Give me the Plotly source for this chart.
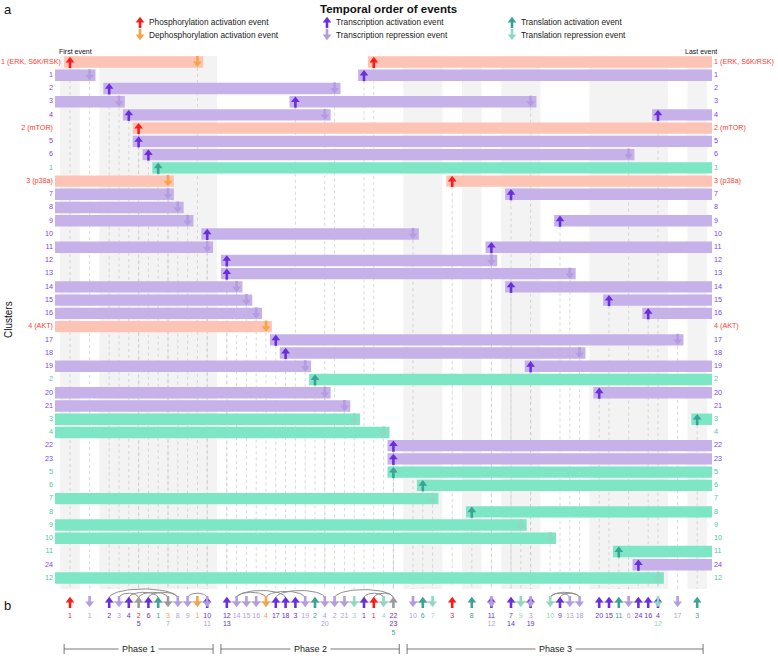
import numpy as np
import plotly.graph_objects as go

# ---- data -------------------------------------------------------------
# cluster rows of panel a, top to bottom (P = phosphorylation, T = transcription, L = translation)
row_labels = ["1 (ERK, S6K/RSK)", "1", "2", "3", "4", "2 (mTOR)", "5", "6", "1", "3 (p38a)",
              "7", "8", "9", "10", "11", "12", "13", "14", "15", "16",
              "4 (AKT)", "17", "18", "19", "2", "20", "21", "3", "4", "22",
              "23", "5", "6", "7", "8", "9", "10", "11", "24", "12"]
row_kinds = ["P", "T", "T", "T", "T", "P", "T", "T", "L", "P",
             "T", "T", "T", "T", "T", "T", "T", "T", "T", "T",
             "P", "T", "T", "T", "L", "T", "T", "L", "L", "T",
             "T", "L", "L", "L", "L", "L", "L", "L", "T", "L"]

# event slots (position in the temporal order) of activation / repression events per row
row_up = [[0, 31], [30], [4], [23], [6, 60], [7], [7], [8], [9], [39],
          [45], [], [50], [14], [43], [16], [16], [45], [55], [59],
          [], [21], [22], [47], [25], [54], [], [64], [], [33],
          [33], [33], [36], [], [41], [], [], [56], [58], []]
row_down = [[13], [2], [27], [5, 47], [26], [], [], [57], [], [10],
            [10], [11], [12], [35], [14], [43], [51], [17], [18], [19],
            [20], [62], [52], [24], [], [26], [28], [29], [32], [],
            [], [], [], [37], [], [46], [49], [], [], [60]]

# links drawn as arcs in panel b (pairs of slots)
arc_pairs = [(4, 11), (5, 7), (6, 9), (7, 10), (8, 11), (12, 14),
             (17, 20), (17, 22), (20, 24), (21, 26), (27, 33), (30, 32), (31, 33),
             (49, 52), (50, 52), (49, 51)]

# phases (first and last slot)
phase_names = ["Phase 1", "Phase 2", "Phase 3"]
phase_slots = [(0, 14), (16, 33), (35, 64)]

# ---- styling ------------------------------------------------------------
W, H = 778, 658
X0, DX = 70.0, 9.8      # pixel of slot 0, pixels per slot
Y0, DY = 62.0, 13.23    # pixel of first row, pixels per row
FONT = "Liberation Sans, Arial, sans-serif"

bar_color = {"P": "#fdc3b4", "T": "#c6b2e9", "L": "#7ce6c5"}
label_color = {"P": "#ff3b30", "T": "#7b45e8", "L": "#4ec6aa"}
up_color = {"P": "#ff1a1a", "T": "#6a2ee0", "L": "#3aa393"}
down_color = {"P": "#f7a445", "T": "#b39de0", "L": "#8fd8c4"}
MIXED = "#9b9b9b"


def kx(px):
    return (px - X0) / DX


def ry(py):
    return (py - Y0) / DY


LEFT, RIGHT, PAD = kx(55), kx(712), 0.6

fig = go.Figure()
shapes = []


def add_arrows(xs, ys, colors, up, stem_w=2.6):
    if not xs:
        return
    s = 1 if up else -1
    fig.add_trace(go.Scatter(
        x=xs, y=[y + s * 2.5 / DY for y in ys], mode="markers", hoverinfo="skip",
        marker=dict(symbol="line-ns", size=5, color=colors, line=dict(color=colors, width=stem_w))))
    fig.add_trace(go.Scatter(
        x=xs, y=[y - s * 1.5 / DY for y in ys], mode="markers", hoverinfo="skip",
        marker=dict(symbol="triangle-up" if up else "triangle-down", size=7.5,
                    color=colors, line=dict(width=0))))


# ---- slot groups and background bands ----------------------------------------
slots = {}
for r in range(len(row_labels)):
    for k in row_up[r]:
        slots.setdefault(k, []).append((r, True))
    for k in row_down[r]:
        slots.setdefault(k, []).append((r, False))
for k in slots:
    slots[k].sort()
order = sorted(slots)
groups = [[order[0]]]
for k in order[1:]:
    if k - groups[-1][-1] == 1:
        groups[-1].append(k)
    else:
        groups.append([k])

for gi, g in enumerate(groups):
    if gi % 2 == 0:
        shapes.append(dict(type="rect", layer="below", xref="x", yref="y",
                           x0=g[0] - 1, x1=g[-1] + 1, y0=ry(56), y1=ry(589),
                           fillcolor="#f3f3f3", line=dict(width=0)))

# dotted guide lines from every event down to the bottom of panel a
for k in order:
    for r, u in slots[k]:
        shapes.append(dict(type="line", layer="below", xref="x", yref="y",
                           x0=k, x1=k, y0=r, y1=ry(589),
                           line=dict(color="#c8c8c8", width=0.7, dash="dot")))

# ---- panel a bars ----------------------------------------------------------
bx, bbase, by, bcol = [], [], [], []
for r, kind in enumerate(row_kinds):
    ev = sorted([(k, True) for k in row_up[r]] + [(k, False) for k in row_down[r]])
    active = not ev[0][1]
    start = LEFT
    for k, u in ev:
        if u:
            start = k - PAD
            active = True
        else:
            bbase.append(start); bx.append(k + PAD - start); by.append(r); bcol.append(bar_color[kind])
            active = False
    if active:
        bbase.append(start); bx.append(RIGHT - start); by.append(r); bcol.append(bar_color[kind])

fig.add_trace(go.Bar(x=bx, base=bbase, y=by, orientation="h", width=0.86,
                     marker=dict(color=bcol, line=dict(width=0)), hoverinfo="skip"))

ux, uy, uc, dx_, dy_, dc = [], [], [], [], [], []
for r, kind in enumerate(row_kinds):
    for k in row_up[r]:
        ux.append(k); uy.append(r); uc.append(up_color[kind])
    for k in row_down[r]:
        dx_.append(k); dy_.append(r); dc.append(down_color[kind])
add_arrows(ux, uy, uc, True)
add_arrows(dx_, dy_, dc, False)

# row labels on both sides (long labels nudged right so they stay in the window)
rows = list(range(len(row_labels)))
lab_cols = [label_color[k] for k in row_kinds]
left_x = [kx(max(53, 3.75 * len(t) + 1)) for t in row_labels]
fig.add_trace(go.Scatter(x=left_x, y=rows, mode="text", text=row_labels,
                         textposition="middle left", hoverinfo="skip",
                         textfont=dict(family=FONT, size=7.2, color=lab_cols)))
fig.add_trace(go.Scatter(x=[kx(714)] * len(rows), y=rows, mode="text", text=row_labels,
                         textposition="middle right", hoverinfo="skip",
                         textfont=dict(family=FONT, size=7.2, color=lab_cols)))

# ---- panel b -----------------------------------------------------------------
YB = ry(602)
for g in groups:
    if len(g) > 1:
        fig.add_trace(go.Scatter(x=[g[0], g[-1]], y=[YB, YB], mode="lines", hoverinfo="skip",
                                 line=dict(color="#b8b8b8", width=1.2)))

for a, b in arc_pairs:
    t = np.linspace(0, np.pi, 30)
    h = min(3 + 0.9 * (b - a), 9) / DY
    fig.add_trace(go.Scatter(x=(a + b) / 2 - (b - a) / 2 * np.cos(t),
                             y=ry(598) - h * np.sin(t), mode="lines", hoverinfo="skip",
                             line=dict(color="#8f8f8f", width=1)))

pux, puc, pdx, pdc = [], [], [], []
tx, ty, tt, tc = [], [], [], []
for k in order:
    ev = slots[k]
    ups = {up_color[row_kinds[r]] for r, u in ev if u}
    downs = {down_color[row_kinds[r]] for r, u in ev if not u}
    if ups:
        pux.append(k); puc.append(ups.pop() if len(ups) == 1 else MIXED)
    if downs:
        pdx.append(k); pdc.append(downs.pop() if len(downs) == 1 else MIXED)
    for i, (r, u) in enumerate(ev):
        tx.append(k); ty.append(ry(616) + i * 8.5 / DY)
        tt.append(row_labels[r].split()[0])
        tc.append((up_color if u else down_color)[row_kinds[r]])
add_arrows(pux, [YB] * len(pux), puc, True)
add_arrows(pdx, [YB] * len(pdx), pdc, False)
fig.add_trace(go.Scatter(x=tx, y=ty, mode="text", text=tt, textposition="middle center",
                         hoverinfo="skip", textfont=dict(family=FONT, size=7, color=tc)))

# phase brackets
annotations = []
YP = ry(649)
for name, (a, b) in zip(phase_names, phase_slots):
    x0, x1 = a - 0.6, b + 0.6
    fig.add_trace(go.Scatter(x=[x0, x0, None, x0, x1, None, x1, x1],
                             y=[YP - 5 / DY, YP + 5 / DY, None, YP, YP, None, YP - 5 / DY, YP + 5 / DY],
                             mode="lines", hoverinfo="skip", line=dict(color="#555555", width=0.8)))
    annotations.append(dict(x=(x0 + x1) / 2, y=YP, xref="x", yref="y", text=name, showarrow=False,
                            bgcolor="white", borderpad=3, font=dict(family=FONT, size=9, color="#222")))

# ---- legend ------------------------------------------------------------------
leg_items = [("Phosphorylation activation event", up_color["P"], True, 140, 22),
             ("Dephosphorylation activation event", down_color["P"], False, 140, 35),
             ("Transcription activation event", up_color["T"], True, 327, 22),
             ("Transcription repression event", down_color["T"], False, 327, 35),
             ("Translation activation event", up_color["L"], True, 512, 22),
             ("Translation repression event", down_color["L"], False, 512, 35)]
for text, col, up, px, py in leg_items:
    add_arrows([kx(px)], [ry(py)], [col], up)
    annotations.append(dict(x=(px + 7) / W, y=1 - py / H, xref="paper", yref="paper", text=text,
                            showarrow=False, xanchor="left", yanchor="middle",
                            font=dict(family=FONT, size=8.3, color="#222")))


def paper_text(text, px, py, size, xanchor="left", bold=False, angle=0):
    annotations.append(dict(x=px / W, y=1 - py / H, xref="paper", yref="paper",
                            text=f"<b>{text}</b>" if bold else text, showarrow=False,
                            xanchor=xanchor, yanchor="middle", textangle=angle,
                            font=dict(family=FONT, size=size, color="#111")))


paper_text("Temporal order of events", 388, 9, 11.5, xanchor="center", bold=True)
paper_text("a", 8, 10, 13, xanchor="center")
paper_text("b", 8, 605, 13, xanchor="center")
paper_text("Clusters", 8, 320, 10, xanchor="center", angle=-90)
paper_text("First event", 57, 51, 7)
paper_text("Last event", 719, 51, 7, xanchor="right")

fig.update_layout(
    width=W, height=H, autosize=False,
    margin=dict(l=0, r=0, t=0, b=0),
    paper_bgcolor="white", plot_bgcolor="white",
    showlegend=False, barmode="overlay",
    shapes=shapes, annotations=annotations,
    xaxis=dict(range=[kx(0), kx(W)], visible=False, fixedrange=True),
    yaxis=dict(range=[ry(H), ry(0)], visible=False, fixedrange=True),
)

# the page's default body margin would push the figure off the window
fig.write_html("out.html", config={"displayModeBar": False},
               post_script="document.body.style.margin = '0px';")
